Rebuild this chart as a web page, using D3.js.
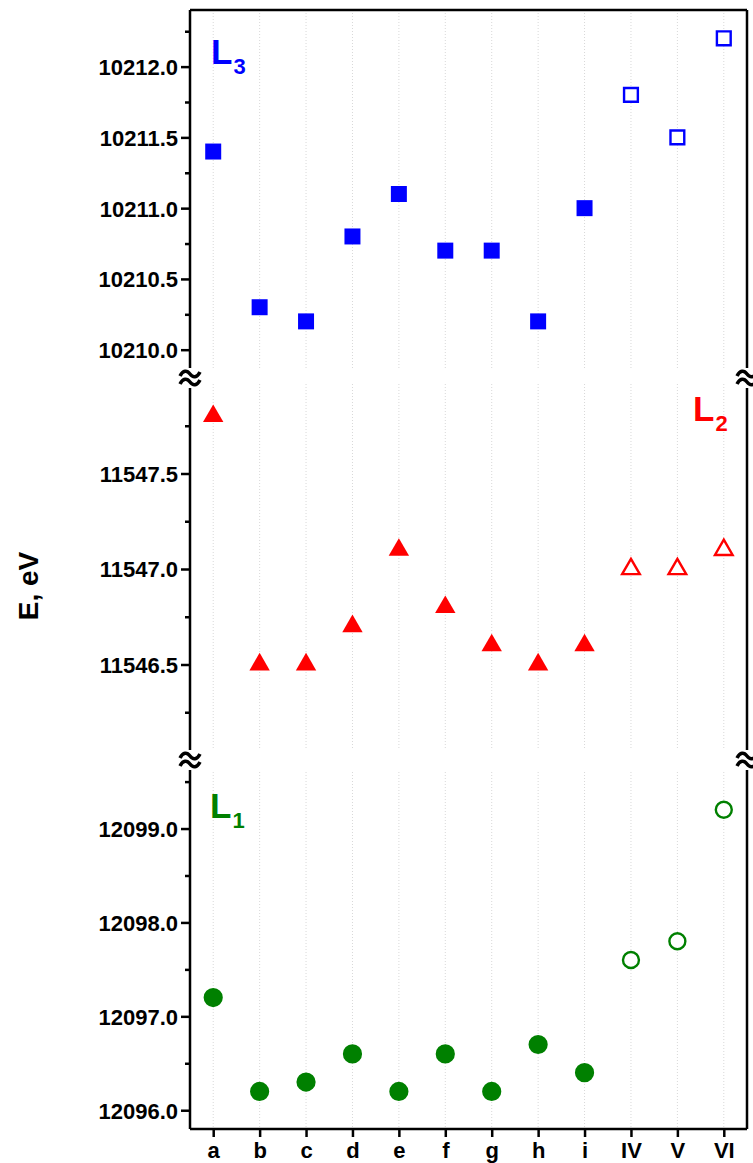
<!DOCTYPE html>
<html>
<head>
  <meta charset="utf-8">
  <title>E, eV</title>
  <style>
    body { margin: 0; background: #fff; }
    svg text { font-family: "Liberation Sans", Arial, sans-serif; font-weight: bold; }
  </style>
</head>
<body>
  <svg id="main" width="753" height="1163"></svg>

  <script src="https://cdn.jsdelivr.net/npm/d3@7"></script>
  <script>
    // categories and measured energies
    const categories = ['a', 'b', 'c', 'd', 'e', 'f', 'g', 'h', 'i', 'IV', 'V', 'VI']
    const filled = [true, true, true, true, true, true, true, true, true, false, false, false]
    const l3Values = [10211.4, 10210.3, 10210.2, 10210.8, 10211.1, 10210.7, 10210.7, 10210.2, 10211.0, 10211.8, 10211.5, 10212.2]
    const l2Values = [11547.8, 11546.5, 11546.5, 11546.7, 11547.1, 11546.8, 11546.6, 11546.5, 11546.6, 11547.0, 11547.0, 11547.1]
    const l1Values = [12097.2, 12096.2, 12096.3, 12096.6, 12096.2, 12096.6, 12096.2, 12096.7, 12096.4, 12097.6, 12097.8, 12099.2]

    // tick labels
    const l3Ticks = [10210.0, 10210.5, 10211.0, 10211.5, 10212.0]
    const l3Minor = [10210.25, 10210.75, 10211.25, 10211.75, 10212.25]
    const l2Ticks = [11546.5, 11547.0, 11547.5]
    const l2Minor = [11546.25, 11546.75, 11547.25, 11547.75]
    const l1Ticks = [12096.0, 12097.0, 12098.0, 12099.0]
    const l1Minor = [12096.5, 12097.5, 12098.5, 12099.5]

    const svg = d3.select('#main')
    const plot = { left: 190, right: 747, top: 10, bottom: 1129 }
    const brk1 = 378, brk2 = 760

    const x = d3.scalePoint().domain(categories).range([plot.left, plot.right]).padding(0.5)

    const panels = [
      { name: 'L', sub: '3', color: '#0000ff', values: l3Values, ticks: l3Ticks, minor: l3Minor,
        y: d3.scaleLinear().domain([10209.8, 10212.4]).range([brk1, plot.top]), shape: 'square',
        label: [211, 64] },
      { name: 'L', sub: '2', color: '#ff0000', values: l2Values, ticks: l2Ticks, minor: l2Minor,
        y: d3.scaleLinear().domain([11546.0, 11548.0]).range([brk2, brk1]), shape: 'triangle',
        label: [693, 421] },
      { name: 'L', sub: '1', color: '#008000', values: l1Values, ticks: l1Ticks, minor: l1Minor,
        y: d3.scaleLinear().domain([12095.8, 12099.73]).range([plot.bottom, brk2]), shape: 'circle',
        label: [210, 818] }
    ]

    // grid lines (with gaps at the breaks)
    const grid = svg.append('g')
    const segs = [[plot.top, brk1 - 8], [brk1 + 6, brk2 - 12], [brk2 + 12, plot.bottom]]
    categories.forEach(c => {
      segs.forEach(s => {
        grid.append('line')
          .attr('x1', x(c)).attr('x2', x(c))
          .attr('y1', s[0]).attr('y2', s[1])
          .attr('stroke', '#d8d8d8')
          .attr('stroke-width', 1)
          .attr('stroke-dasharray', '1,2')
      })
    })

    // axes frame
    const frame = svg.append('g').attr('stroke', '#000').attr('stroke-width', 2.5).attr('fill', 'none')
    frame.append('line').attr('x1', plot.left).attr('x2', plot.right).attr('y1', plot.top).attr('y2', plot.top)
    frame.append('line').attr('x1', plot.left).attr('x2', plot.right).attr('y1', plot.bottom).attr('y2', plot.bottom)
    ;[plot.left, plot.right].forEach(xx => {
      frame.append('line').attr('x1', xx).attr('x2', xx).attr('y1', plot.top).attr('y2', plot.bottom)
    })

    panels.forEach(p => {
      const axis = d3.axisLeft(p.y)
        .tickValues(p.ticks)
        .tickSize(9)
        .tickPadding(3)
        .tickFormat(d3.format('.1f'))
      const g = svg.append('g').attr('transform', `translate(${plot.left},0)`).call(axis)
      g.select('.domain').remove()
      g.selectAll('.tick line').attr('stroke-width', 2.5)
      g.selectAll('.tick text')
        .attr('font-size', '22px')
        .attr('fill', '#000')
        .attr('dy', '0.36em')

      const mg = svg.append('g').attr('transform', `translate(${plot.left},0)`)
        .call(d3.axisLeft(p.y).tickValues(p.minor).tickSize(5).tickFormat(''))
      mg.select('.domain').remove()
      mg.selectAll('.tick line').attr('stroke-width', 2.5)

      // markers
      let sym, fillSize, openSize
      if (p.shape === 'square') { sym = d3.symbolSquare; fillSize = 256; openSize = 190 }
      else if (p.shape === 'triangle') { sym = d3.symbolTriangle; fillSize = 180; openSize = 135 }
      else { sym = d3.symbolCircle; fillSize = 290; openSize = 200 }

      svg.append('g').selectAll('path')
        .data(categories.map((c, i) => ({ c, v: p.values[i], f: filled[i] })))
        .join('path')
        .attr('transform', d => `translate(${x(d.c)},${p.y(d.v)})`)
        .attr('d', d => d3.symbol().type(sym).size(d.f ? fillSize : openSize)())
        .attr('fill', d => d.f ? p.color : '#fff')
        .attr('stroke', d => d.f ? 'none' : p.color)
        .attr('stroke-width', 2.4)

      // series label
      const t = svg.append('text')
        .attr('x', p.label[0]).attr('y', p.label[1])
        .attr('fill', p.color)
        .attr('font-size', '35px')
      t.append('tspan').text(p.name)
      t.append('tspan').text(p.sub).attr('font-size', '22px').attr('dy', '0.45em').attr('dx', '1')
    })

    // x axis
    const xg = svg.append('g').attr('transform', `translate(0,${plot.bottom})`)
      .call(d3.axisBottom(x).tickSize(8).tickPadding(5))
    xg.select('.domain').remove()
    xg.selectAll('.tick line').attr('stroke-width', 2.5)
    xg.selectAll('.tick text').attr('font-size', '22px').attr('fill', '#000')

    // axis breaks: two wavy strokes over a white gap
    const tilde = 'M-10,2 C-7,-4 -3,-4 0,0 S7,4 10,-2'
    ;[brk1, brk2].forEach(by => {
      ;[plot.left, plot.right].forEach(bx => {
        const b = svg.append('g').attr('transform', `translate(${bx},${by})`)
        b.append('rect').attr('x', -7).attr('y', -10).attr('width', 14).attr('height', 20).attr('fill', '#fff')
        ;[-4, 4].forEach(dy => {
          b.append('path')
            .attr('d', tilde)
            .attr('transform', `translate(0,${dy})`)
            .attr('fill', 'none')
            .attr('stroke', '#000')
            .attr('stroke-width', 3.5)
        })
      })
    })

    // y title
    svg.append('text')
      .attr('transform', 'translate(38,586) rotate(-90)')
      .attr('text-anchor', 'middle')
      .attr('font-size', '28px')
      .attr('fill', '#000')
      .text('E, eV')
  </script>
</body>
</html>
